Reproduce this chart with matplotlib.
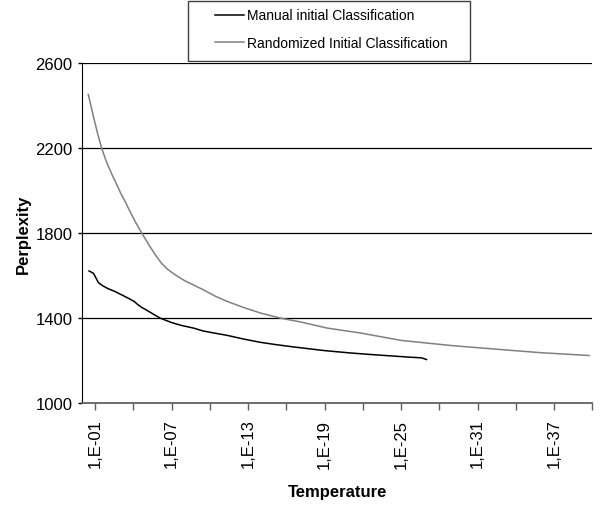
import matplotlib
matplotlib.use("Agg")
import matplotlib.pyplot as plt
from matplotlib.patches import Rectangle

# Data: x = exponent n of temperature 1E-n
manual_n = [0.53, 0.87, 1.0, 1.26, 1.6, 2.0, 2.57, 3.2, 3.75, 4.1, 4.4, 4.7, 5.0, 5.5,
            6.1, 7.0, 7.8, 8.72, 9.5, 10.4, 11.34, 12.6, 13.96, 15.2, 16.6, 19.0, 21.0,
            23.0, 25.7, 26.6, 27.0]
manual_v = [1623, 1612, 1598, 1568, 1553, 1540, 1526, 1507, 1490, 1478, 1462, 1450, 1440, 1422,
            1401, 1380, 1366, 1354, 1340, 1330, 1320, 1303, 1287, 1276, 1265, 1248, 1237,
            1228, 1217, 1214, 1206]
random_n = [0.47, 0.7, 0.87, 1.2, 1.52, 1.9, 2.3, 2.62, 3.0, 3.4, 3.8, 4.2, 4.67, 5.2, 5.71,
            6.2, 6.7, 7.3, 8.0, 8.72, 9.5, 10.4, 11.34, 12.6, 13.96, 15.6, 17.1, 19.2, 21.8,
            25.0, 28.9, 32.8, 36.0, 39.75]
random_v = [2453, 2395, 2350, 2270, 2200, 2135, 2080, 2040, 1990, 1945, 1895, 1850, 1800, 1748,
            1700, 1660, 1630, 1604, 1578, 1557, 1534, 1505, 1480, 1452, 1425, 1400, 1383, 1354,
            1331, 1296, 1272, 1253, 1238, 1225]
yticks = [1000, 1400, 1800, 2200, 2600]
xtick_pos = list(range(1, 41, 3))
label_exps = [1, 7, 13, 19, 25, 31, 37]

plt.rcParams['font.family'] = ['Liberation Sans', 'DejaVu Sans']
fig = plt.figure(figsize=(6.01, 5.06), dpi=100)
ax = fig.add_axes([82.3/601, 1-404.3/506, (592.3-82.3)/601, (404.3-64.3)/506])

l1, = ax.plot(manual_n, manual_v, color='black', lw=1.1, label='Manual initial Classification')
l2, = ax.plot(random_n, random_v, color='#808080', lw=1.1, label='Randomized Initial Classification')

ax.set_xlim(0, 40)
ax.set_ylim(1000, 2600)
ax.set_yticks(yticks)
ax.set_yticklabels([str(v) for v in yticks], fontsize=12)
ax.set_xticks(xtick_pos)
ax.set_xticklabels(['1,E-%02d' % e if e in label_exps else '' for e in xtick_pos],
                   rotation=90, fontsize=12)
for v in yticks[1:]:
    ax.axhline(v, color='black', lw=0.9, zorder=0)
ax.spines['top'].set_visible(False)
ax.spines['right'].set_visible(False)
ax.spines['left'].set_color('black')
ax.spines['bottom'].set_color('#606060')
ax.spines['bottom'].set_linewidth(1.3)
ax.tick_params(axis='x', direction='out', length=5, width=1, color='#606060', pad=6)
ax.tick_params(axis='y', direction='out', length=3, width=1, pad=4)
ax.set_xlabel('Temperature', fontsize=12, fontweight='bold', labelpad=12)
ax.set_ylabel('Perplexity', fontsize=12, fontweight='bold', labelpad=3)

leg = fig.legend(handles=[l1, l2], loc='center', bbox_to_anchor=(331/601, 1-30/506),
                 fontsize=10, frameon=False,
                 handlelength=2.1, handletextpad=0.2, borderpad=0.0, labelspacing=0.95,
                 borderaxespad=0)
fig.patches.append(Rectangle((188/601, 1-62/506), (470-188)/601, 60/506,
                             transform=fig.transFigure, fill=False,
                             edgecolor='#404040', lw=1.0))

fig.savefig('out.png', dpi=100)
